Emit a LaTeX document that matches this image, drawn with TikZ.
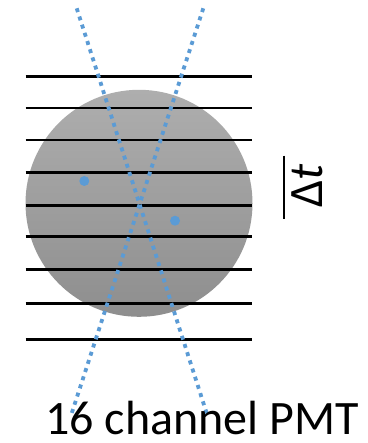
\documentclass[tikz,border=0pt]{standalone}
\usepackage{fontspec}
\setmainfont{Carlito}
\begin{document}
\begin{tikzpicture}[x=1pt,y=-1pt,
  hline/.style={line width=2.4pt,black},
  ray/.style={line width=3.8pt,color=rayblue,dash pattern=on 4pt off 4.6pt},
  spot/.style={circle,fill=rayblue,inner sep=0pt,minimum size=10pt},
  lbl/.style={font=\fontsize{48}{50}\selectfont,inner sep=0pt}]
\definecolor{rayblue}{HTML}{5B9BD5}
\useasboundingbox (0,0) rectangle (367,443);
\shade[top color={rgb,255:red,174;green,174;blue,174},bottom color={rgb,255:red,142;green,142;blue,142}] (139,203.3) circle[radius=113.5];
\foreach \yy in {76.7,108.3,140.3,172.7,205.7,236.3,269.3,303.3,339.3}
  \draw[hline] (25.7,\yy) -- (252.3,\yy);
\coordinate (r1a) at (76.7,8.3);
\coordinate (r1b) at (206.7,413.3);
\coordinate (r2a) at (203.3,8.3);
\coordinate (r2b) at (71.7,413.3);
\draw[ray] (r1a) -- (r1b);
\draw[ray] (r2a) -- (r2b);
\node[spot] (s1) at (84.3,181) {};
\node[spot] (s2) at (175,220.7) {};
\coordinate (bt) at (283.7,155.7);
\coordinate (bb) at (283.7,219);
\draw[line width=2.2pt] (bt) -- (bb);
\node[lbl,rotate=90,anchor=base] (dt) at (322,186) {Δ\textit{t}};
\node[lbl,anchor=base west] (pmt) at (45,434) {16 channel PMT};
\end{tikzpicture}
\end{document}
